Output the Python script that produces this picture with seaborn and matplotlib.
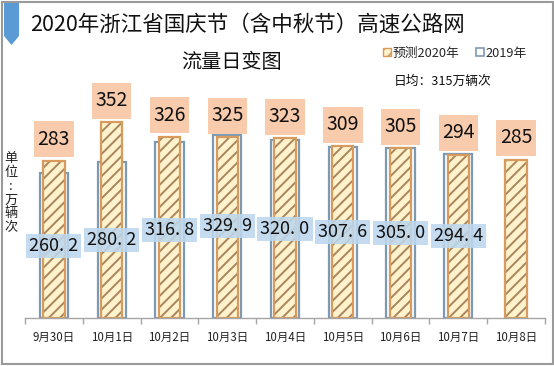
import matplotlib
matplotlib.use("Agg")
import matplotlib.pyplot as plt
import seaborn as sns
import numpy as np
import pandas as pd
from matplotlib.patches import Patch, Rectangle, Polygon
from matplotlib.path import Path

dates = ["9月30日", "10月1日", "10月2日", "10月3日", "10月4日", "10月5日", "10月6日", "10月7日", "10月8日"]
v2020 = [283, 352, 326, 325, 323, 309, 305, 294, 285]
v2019 = [260.2, 280.2, 316.8, 329.9, 320.0, 307.6, 305.0, 294.4, np.nan]
series_names = ["预测2020年", "2019年"]
title = "2020年浙江省国庆节（含中秋节）高速公路网"
subtitle = "流量日变图"
note = "日均：315万辆次"
ylabel = "单位：万辆次"

sns.set_theme(style="white")
plt.rcParams['font.family'] = ['Noto Sans CJK SC', 'DejaVu Sans']
plt.rcParams['hatch.linewidth'] = 1.4

W, H = 554, 366
fig = plt.figure(figsize=(W / 100, H / 100), dpi=100)
fig.patch.set_facecolor("white")

def fx(px):
    return px / W

def fy(py):
    return 1 - py / H

def make_box(padx, pady):
    def box(x0, y0, width, height, mutation_size):
        x0 -= padx
        y0 -= pady
        x1 = x0 + width + 2 * padx
        y1 = y0 + height + 2 * pady
        return Path([(x0, y0), (x1, y0), (x1, y1), (x0, y1), (x0, y0)], closed=True)
    return box

ax = fig.add_axes([fx(25), fy(318), fx(545) - fx(25), fy(100) - fy(318)])

df = pd.DataFrame({"date": dates, "v2020": v2020, "v2019": v2019})

blue_edge = "#7d9ab3"
orange_edge = "#d99a5e"
hatch_col = "#a9855c"
yellow = "#fff2cc"

sns.barplot(data=df, x="date", y="v2019", order=dates, ax=ax, width=0.49,
            color="white", edgecolor=blue_edge, linewidth=1.6, errorbar=None,
            saturation=1)
n19 = len(ax.patches)
sns.barplot(data=df, x="date", y="v2020", order=dates, ax=ax, width=0.37,
            color=yellow, edgecolor=hatch_col, linewidth=0, errorbar=None,
            saturation=1)
for p in ax.patches[n19:]:
    p.set_hatch("///")
    p.set_edgecolor(hatch_col)
    p.set_linewidth(0)
sns.barplot(data=df, x="date", y="v2020", order=dates, ax=ax, width=0.37,
            fill=False, edgecolor=orange_edge, linewidth=1.6, errorbar=None)

ax.set_xlim(-0.5, 8.5)
ax.set_ylim(0, 392)
ax.set_xlabel("")
ax.set_ylabel("")
ax.set_yticks([])
for s in ["left", "right", "top"]:
    ax.spines[s].set_visible(False)
ax.spines["bottom"].set_color("#a6a6a6")
ax.spines["bottom"].set_linewidth(1.0)
ax.set_xticks(range(len(dates)))
ax.set_xticklabels(dates, fontsize=8.3, color="#222222")
ax.tick_params(axis="x", which="major", length=0, pad=9)
ax.set_xticks(np.arange(-0.5, 9.0, 1.0), minor=True)
ax.tick_params(axis="x", which="minor", length=4, color="#a6a6a6", width=1.0, bottom=True)

for i, v in enumerate(v2020):
    ax.annotate(f"{v}", xy=(i, v), xytext=(0, 15.5), textcoords="offset points",
                ha="center", va="center", fontsize=14, color="#111111",
                bbox=dict(boxstyle=make_box(3.5, 7.5), facecolor="#f8cbad", edgecolor="none"),
                zorder=5)
for i, v in enumerate(v2019):
    if np.isnan(v):
        continue
    s = f"{v:.1f}".replace(".", ". ")
    ax.text(i, v / 2, s, ha="center", va="center", fontsize=13, color="#111111",
            bbox=dict(boxstyle=make_box(3, 3), facecolor="#bdd7ee", edgecolor="none", alpha=0.88),
            zorder=5)

fig.text(fx(30), fy(25), title, ha="left", va="center", fontsize=15.5, color="#111111")
fig.text(fx(232), fy(62), subtitle, ha="center", va="center", fontsize=14.5, color="#111111")
fig.text(fx(443), fy(81), note, ha="center", va="center", fontsize=9.2, color="#111111")
fig.text(fx(11), fy(193), "\n".join(ylabel.replace("：", ":")), ha="center", va="center",
         fontsize=9.5, color="#222222", linespacing=1.08)

handles = [Patch(facecolor=yellow, edgecolor=orange_edge, hatch="///", linewidth=1.0),
           Patch(facecolor="white", edgecolor=blue_edge, linewidth=1.2)]
fig.legend(handles, series_names, loc="center", bbox_to_anchor=(fx(455), fy(53)), ncol=2,
           frameon=False, fontsize=9.2, handlelength=0.6, handleheight=0.6,
           handletextpad=0.15, columnspacing=1.3, borderpad=0)

banner = Polygon([[fx(4), fy(3)], [fx(19), fy(3)], [fx(19), fy(36)], [fx(11.5), fy(45)],
                  [fx(4), fy(36)]], closed=True, transform=fig.transFigure,
                 facecolor="#5b9bd5", edgecolor="none")
fig.patches.append(banner)

frame = Rectangle((fx(1.5), fy(364)), fx(551), fy(1.5) - fy(364), transform=fig.transFigure,
                  fill=False, edgecolor="#9a9a9a", linewidth=1.5)
fig.patches.append(frame)

fig.savefig("out.png", dpi=100, facecolor="white")
